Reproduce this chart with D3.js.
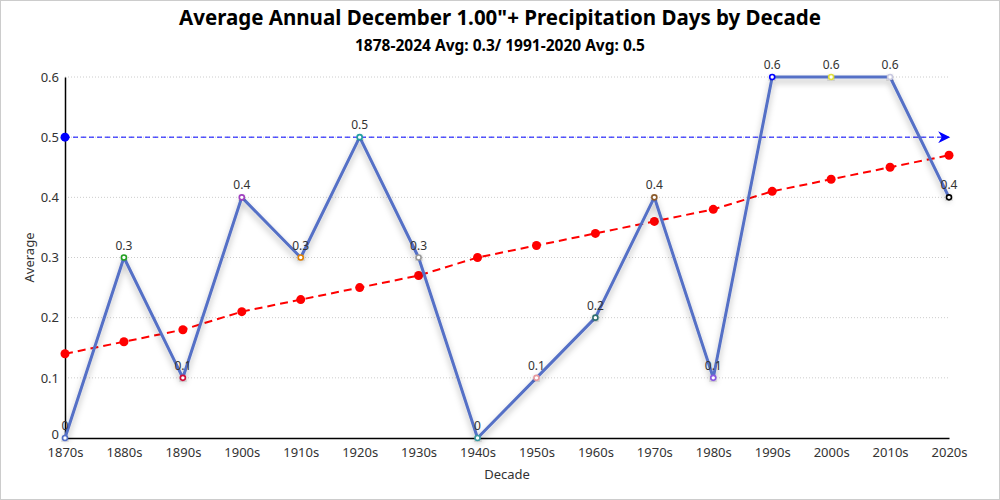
<!DOCTYPE html>
<html lang="en">
<head>
<meta charset="UTF-8">
<title>December 1.00"+ Precipitation Days by Decade</title>
<script src="https://d3js.org/d3.v7.min.js"></script>
<style>
    body { margin: 0; background: #fff; }
    #chart {
        width: 998px;
        height: 498px;
        border: 1px solid #ccc;
    }
    text { font-family: "Noto Sans", "Open Sans", sans-serif; }
    .grid line { stroke: #ccc; stroke-dasharray: 1,2; }
</style>
</head>
<body>
<div id="chart"></div>
<script>
    const decades = ["1870s","1880s","1890s","1900s","1910s","1920s","1930s","1940s",
                     "1950s","1960s","1970s","1980s","1990s","2000s","2010s","2020s"];
    const averages = [0, 0.3, 0.1, 0.4, 0.3, 0.5, 0.3, 0, 0.1, 0.2, 0.4, 0.1, 0.6, 0.6, 0.6, 0.4];
    const trend = [0.14, 0.16, 0.18, 0.21, 0.23, 0.25, 0.27, 0.30, 0.32, 0.34, 0.36, 0.38, 0.41, 0.43, 0.45, 0.47];
    const pointColors = ["#5470c6","#22a022","#d0103a","#a040c0","#e08000","#20a0a0","#999999","#3a9aa0",
                         "#e89aa0","#2f6f6f","#8b5a2b","#8a5ae0","#0000ff","#e0e040","#c8c8e0","#000000"];
    const refValue = 0.5;   // 1991-2020 normal
    const yTicks = [0, 0.1, 0.2, 0.3, 0.4, 0.5, 0.6];

    const W = 998, H = 498;
    const margin = { top: 76, right: 50, bottom: 61, left: 64 };
    const innerW = W - margin.left - margin.right;
    const innerH = H - margin.top - margin.bottom;

    const svg = d3.select("#chart").append("svg")
        .attr("width", W).attr("height", H);

    const defs = svg.append("defs");
    const shadow = defs.append("filter").attr("id", "shadow")
        .attr("x", "-20%").attr("y", "-20%").attr("width", "140%").attr("height", "140%");
    shadow.append("feDropShadow").attr("dx", 0).attr("dy", 4).attr("stdDeviation", 3)
        .attr("flood-color", "#000").attr("flood-opacity", 0.3);
    defs.append("marker").attr("id", "arrow")
        .attr("viewBox", "0 0 10 10").attr("refX", 9).attr("refY", 5)
        .attr("markerWidth", 18).attr("markerHeight", 12).attr("markerUnits", "userSpaceOnUse")
        .attr("orient", "auto")
        .append("path").attr("d", "M0,0 L10,5 L0,10 L3,5 Z").attr("fill", "blue");

    const g = svg.append("g").attr("transform", `translate(${margin.left},${margin.top})`);

    const x = d3.scalePoint().domain(decades).range([0, innerW]);
    const y = d3.scaleLinear().domain([0, 0.6]).range([innerH, 0]);

    // titles
    svg.append("text").attr("x", W / 2).attr("y", 24).attr("text-anchor", "middle")
        .attr("font-size", 20.5).attr("font-weight", "bold").attr("fill", "#000")
        .text('Average Annual December 1.00"+ Precipitation Days by Decade');
    svg.append("text").attr("x", W / 2).attr("y", 50).attr("text-anchor", "middle")
        .attr("font-size", 15.5).attr("font-weight", "bold").attr("fill", "#000")
        .text("1878-2024 Avg: 0.3/ 1991-2020 Avg: 0.5");

    // grid
    g.append("g").attr("class", "grid")
        .selectAll("line").data(yTicks.slice(1)).join("line")
        .attr("x1", 0).attr("x2", innerW)
        .attr("y1", d => y(d)).attr("y2", d => y(d));

    // axes
    const yAxis = g.append("g")
        .call(d3.axisLeft(y).tickValues(yTicks).tickSize(0).tickPadding(6).tickFormat(d => d3.format("~g")(d)));
    const xAxis = g.append("g").attr("transform", `translate(0,${innerH})`)
        .call(d3.axisBottom(x).tickSize(0).tickPadding(10));
    [yAxis, xAxis].forEach(a => {
        a.select(".domain").attr("stroke", "#000").attr("stroke-width", 1.5);
        a.selectAll("text").attr("font-size", 13).attr("fill", "#333")
            .attr("font-family", '"Noto Sans", sans-serif');
    });
    // lift the zero label so it clears the first decade label
    yAxis.selectAll(".tick text").filter(d => d === 0).attr("dy", "0em");

    svg.append("text")
        .attr("transform", `translate(33,${margin.top + innerH / 2}) rotate(-90)`)
        .attr("text-anchor", "middle").attr("font-size", 13).attr("fill", "#333")
        .text("Average");
    svg.append("text").attr("x", margin.left + innerW / 2).attr("y", 478)
        .attr("text-anchor", "middle").attr("font-size", 13).attr("fill", "#333")
        .text("Decade");

    // 1991-2020 reference line
    g.append("line")
        .attr("x1", 0).attr("x2", innerW)
        .attr("y1", y(refValue)).attr("y2", y(refValue))
        .attr("stroke", "blue").attr("stroke-width", 1).attr("stroke-dasharray", "5,3")
        .attr("marker-end", "url(#arrow)");
    g.append("circle").attr("cx", 0).attr("cy", y(refValue)).attr("r", 4.5).attr("fill", "blue");

    // trend line
    const trendLine = d3.line().x((d, i) => x(decades[i])).y(d => y(d));
    g.append("path").datum(trend)
        .attr("d", trendLine).attr("fill", "none")
        .attr("stroke", "red").attr("stroke-width", 2).attr("stroke-dasharray", "8,5");
    g.append("g").selectAll("circle").data(trend).join("circle")
        .attr("cx", (d, i) => x(decades[i])).attr("cy", d => y(d))
        .attr("r", 4.5).attr("fill", "red");

    // main series
    const mainLine = d3.line().x((d, i) => x(decades[i])).y(d => y(d));
    g.append("path").datum(averages)
        .attr("d", mainLine).attr("fill", "none")
        .attr("stroke", "#5470c6").attr("stroke-width", 3).attr("stroke-linejoin", "round")
        .attr("filter", "url(#shadow)");
    g.append("g").selectAll("circle").data(averages).join("circle")
        .attr("cx", (d, i) => x(decades[i])).attr("cy", d => y(d))
        .attr("r", 2.5).attr("fill", "#fff")
        .attr("stroke", (d, i) => pointColors[i]).attr("stroke-width", 1.6)
        .attr("filter", "url(#shadow)");
    g.append("g").selectAll("text").data(averages).join("text")
        .attr("x", (d, i) => x(decades[i])).attr("y", d => y(d) - 8)
        .attr("text-anchor", "middle").attr("font-size", 12).attr("fill", "#333")
        .text(d => d3.format("~g")(d));
</script>
</body>
</html>
